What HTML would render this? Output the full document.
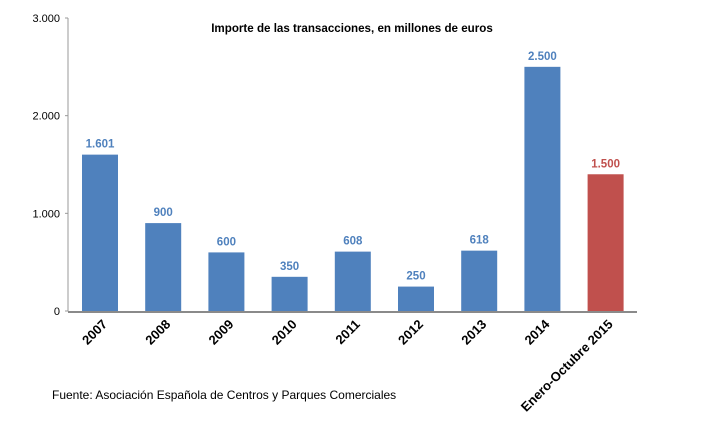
<!DOCTYPE html>
<html><head><meta charset="utf-8"><style>
body{margin:0;background:#fff;}
svg text{font-family:"Liberation Sans",sans-serif;}
</style></head><body>
<svg width="706" height="421" xmlns="http://www.w3.org/2000/svg">
<text x="352" y="32" text-anchor="middle" font-size="11.6" font-weight="bold" fill="#000">Importe de las transacciones, en millones de euros</text>
<g id="yaxis"></g><g id="bars"></g><g id="xlabels"></g>
<text x="52" y="399" font-size="12" fill="#000">Fuente: Asociación Española de Centros y Parques Comerciales</text>
</svg>
<script>
const categories=["2007","2008","2009","2010","2011","2012","2013","2014","Enero-Octubre 2015"];
const values=[1601,900,600,350,608,250,618,2500,1400];
const valueLabels=["1.601","900","600","350","608","250","618","2.500","1.500"];
const yTicks=[0,1000,2000,3000];
const yTickLabels=["0","1.000","2.000","3.000"];
const NS="http://www.w3.org/2000/svg";
const y0=311,yTop=18,axX=68,x0=68,step=63.2;
function yS(v){return y0-(v/3000)*(y0-yTop);}
function xC(i){return x0+32+i*step;}
function mk(t,a,p){const e=document.createElementNS(NS,t);for(const k in a)e.setAttribute(k,a[k]);p.appendChild(e);return e;}
const ya=document.getElementById('yaxis');
const ax=mk('line',{x1:axX,y1:yTop,x2:axX,y2:y0,stroke:'#9a9a9a','stroke-width':1},ya);


yTicks.forEach((t,i)=>{
 const l=mk('line',{x1:axX-3,y1:yS(t),x2:axX,y2:yS(t),stroke:'#9a9a9a'},ya);
 
 
 const tx=mk('text',{x:axX-8,y:yS(t)+4,'text-anchor':'end','font-size':11,fill:'#000'},ya);
 tx.textContent=yTickLabels[i];
 
 
});
const bg=document.getElementById('bars');
values.forEach((v,i)=>{
 const red=i===values.length-1;
 const c=red?'#c0504d':'#4f81bd';
 const r=mk('rect',{x:xC(i)-18,y:yS(v),width:36,height:y0-yS(v),fill:c},bg);
 
 
 const t=mk('text',{x:xC(i),y:yS(v)-7,'text-anchor':'middle','font-size':11.5,'font-weight':'bold',fill:c},bg);
 t.textContent=valueLabels[i];
 
 
});
const base=mk('line',{x1:axX,y1:y0+1,x2:637,y2:y0+1,stroke:'#8a8a8a','stroke-width':2},bg);


const xl=document.getElementById('xlabels');
categories.forEach((c,i)=>{
 const x=xC(i)+8,y=y0+14;
 const t=mk('text',{x:x,y:y,'text-anchor':'end','font-size':13,'font-weight':'bold',fill:'#000',transform:`rotate(-45 ${x} ${y})`},xl);
 t.textContent=c;
 
 
});
</script>
</body></html>
